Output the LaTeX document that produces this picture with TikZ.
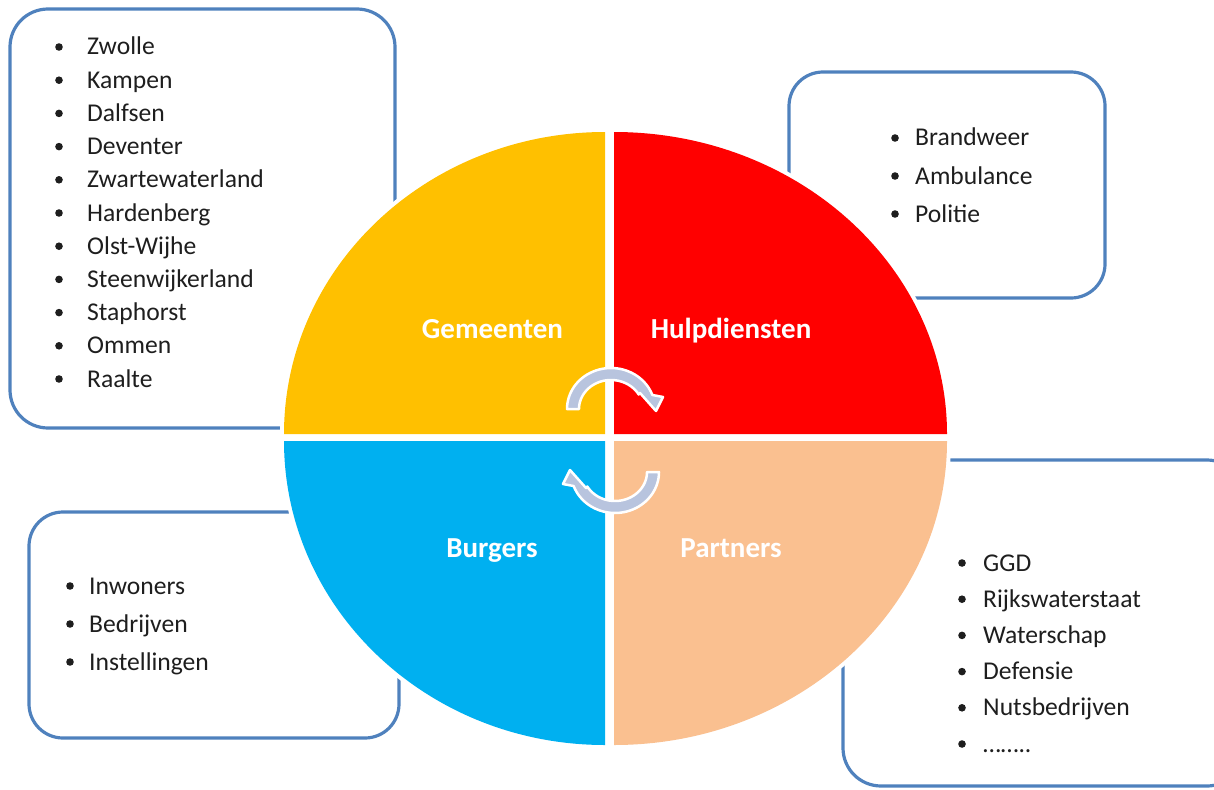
\documentclass[tikz,border=0pt]{standalone}
\usepackage{fontspec}
\setmainfont{Carlito}
\definecolor{boxblue}{RGB}{79,129,189}
\definecolor{qyellow}{RGB}{255,192,0}
\definecolor{qred}{RGB}{255,0,0}
\definecolor{qblue}{RGB}{0,176,240}
\definecolor{qpeach}{RGB}{250,192,144}
\definecolor{arrowfill}{RGB}{184,196,222}
\definecolor{txt}{RGB}{30,30,30}
\begin{document}
\begin{tikzpicture}[x=1pt,y=-1pt,
  listbox/.style={draw=boxblue, line width=3.2pt, rounded corners=38pt},
  quad/.style={preaction={draw=white, line width=8pt}},
  qlabel/.style={text=white, font=\fontsize{29}{34}\selectfont\bfseries, anchor=base, inner sep=0pt},
  item/.style={text=txt, font=\fontsize{25.6}{30}\selectfont, anchor=base west, inner sep=0pt},
  bul/.style={fill=txt},
  cyclearrow/.style={fill=arrowfill, draw=white, line width=2.5pt, line join=round}]
\useasboundingbox (0,0) rectangle (1214,789);

% list boxes
\draw[listbox] (10,9) rectangle (395,428);
\draw[listbox, rounded corners=34pt] (789,72) rectangle (1105,298);
\draw[listbox, rounded corners=34pt] (29,512) rectangle (399,738);
\draw[listbox] (843,460) rectangle (1245,786);

% quadrants
\fill[quad, qyellow] (605,434) -- (284,434) .. controls (284,267.2) and (427.7,132) .. (605,132) -- cycle;
\fill[quad, qred] (614,434) -- (947,434) .. controls (947,267.2) and (797.9,132) .. (614,132) -- cycle;
\fill[quad, qblue] (605,441) -- (284,441) .. controls (284,608.9) and (427.7,745) .. (605,745) -- cycle;
\fill[quad, qpeach] (614,441) -- (947,441) .. controls (947,608.9) and (797.9,745) .. (614,745) -- cycle;

% quadrant labels
\node[qlabel] (gem) at (492.5,338) {Gemeenten};
\node[qlabel] (hulp) at (731,338) {Hulpdiensten};
\node[qlabel] (burg) at (492,557) {Burgers};
\node[qlabel] (part) at (731,557) {Partners};

% cycle arrows
\draw[cyclearrow] (567,409)
  -- plot[domain=180:20, samples=40, variable=\t] ({611+44*cos(\t)}, {409-41*sin(\t)})
  -- (663,397) -- (656,411) -- (640,393)
  -- plot[domain=30:180, samples=40, variable=\t] ({611+32*cos(\t)}, {409-29*sin(\t)})
  -- cycle;
\begin{scope}[rotate around={180:(613,440.5)}]
\draw[cyclearrow] (567,409)
  -- plot[domain=180:20, samples=40, variable=\t] ({611+44*cos(\t)}, {409-41*sin(\t)})
  -- (663,397) -- (656,411) -- (640,393)
  -- plot[domain=30:180, samples=40, variable=\t] ({611+32*cos(\t)}, {409-29*sin(\t)})
  -- cycle;
\end{scope}

% top-left list
\foreach \t [count=\i from 0] in {Zwolle,Kampen,Dalfsen,Deventer,Zwartewaterland,Hardenberg,Olst-Wijhe,Steenwijkerland,Staphorst,Ommen,Raalte} {
  \node[item] (tl\i) at (87,{55+33.2*\i}) {\t};
  \fill[bul] (59,{47+33.2*\i}) circle[radius=3.8pt];
}
% top-right list
\foreach \t [count=\i from 0] in {Brandweer,Ambulance,Politie} {
  \node[item] (tr\i) at (915,{146+38*\i}) {\t};
  \fill[bul] (895,{138+38*\i}) circle[radius=3.8pt];
}
% bottom-left list
\foreach \t [count=\i from 0] in {Inwoners,Bedrijven,Instellingen} {
  \node[item] (bl\i) at (89,{594+38*\i}) {\t};
  \fill[bul] (70,{586+38*\i}) circle[radius=3.8pt];
}
% bottom-right list
\foreach \t [count=\i from 0] in {GGD,Rijkswaterstaat,Waterschap,Defensie,Nutsbedrijven,……..} {
  \node[item] (br\i) at (983,{571+36.2*\i}) {\t};
  \fill[bul] (962,{563+36.2*\i}) circle[radius=3.8pt];
}
\end{tikzpicture}
\end{document}
